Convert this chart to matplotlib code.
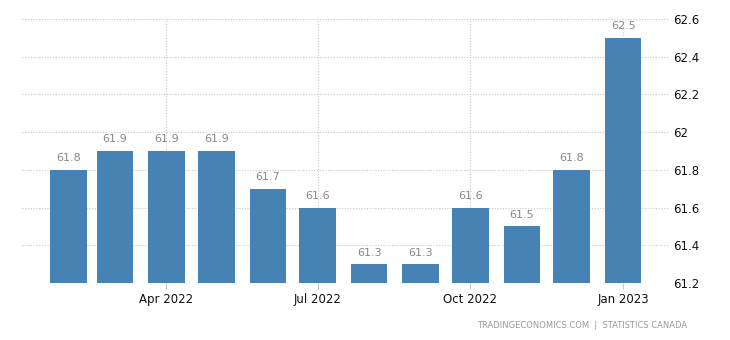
import datetime as dt
import matplotlib
matplotlib.use('Agg')
import matplotlib.pyplot as plt
import matplotlib.dates as mdates

# Monthly values, Feb 2022 - Jan 2023
months = ['2022-02', '2022-03', '2022-04', '2022-05', '2022-06', '2022-07',
          '2022-08', '2022-09', '2022-10', '2022-11', '2022-12', '2023-01']
values = [61.8, 61.9, 61.9, 61.9, 61.7, 61.6, 61.3, 61.3, 61.6, 61.5, 61.8, 62.5]
y_ticks = [61.2, 61.4, 61.6, 61.8, 62.0, 62.2, 62.4, 62.6]
x_ticks = ['2022-04', '2022-07', '2022-10', '2023-01']

dates = [dt.datetime.strptime(m, '%Y-%m') for m in months]
tick_dates = [dt.datetime.strptime(m, '%Y-%m') for m in x_ticks]

bar_color = '#4682b4'
grid_color = '#c8c8c8'

fig = plt.figure(figsize=(7.3, 3.4), dpi=100)
ax = fig.add_axes([22 / 730, 1 - 283 / 340, 646 / 730, 264 / 340])

bottom = y_ticks[0]
ax.bar(dates, [v - bottom for v in values], bottom=bottom, width=22,
       color=bar_color, align='center', zorder=2)

for d, v in zip(dates, values):
    ax.text(d, v + 0.035, f'{v:g}', ha='center', va='bottom',
            fontsize=8, color='#888888', zorder=3)

ax.set_ylim(61.2, 62.6)
ax.set_xlim(dt.datetime(2022, 1, 4), dt.datetime(2023, 1, 28))

ax.set_yticks(y_ticks)
ax.set_yticklabels([f'{t:g}' for t in y_ticks])
ax.yaxis.tick_right()
ax.tick_params(axis='y', length=0, pad=4, labelsize=8.5, colors='#111111')

ax.set_xticks(tick_dates)
ax.xaxis.set_major_formatter(mdates.DateFormatter('%b %Y'))
ax.tick_params(axis='x', length=4, width=0.8, color=grid_color, pad=3,
               labelsize=8.5, labelcolor='#111111')

ax.grid(True, which='major', axis='both', linestyle=(0, (1, 1.5)),
        color=grid_color, linewidth=0.8, zorder=0)
for s in ax.spines.values():
    s.set_visible(False)

fig.text(687 / 730, 1 - 325 / 340, 'TRADINGECONOMICS.COM  |  STATISTICS CANADA',
         ha='right', va='center', fontsize=6, color='#999999')

fig.savefig('out.png', dpi=100)
